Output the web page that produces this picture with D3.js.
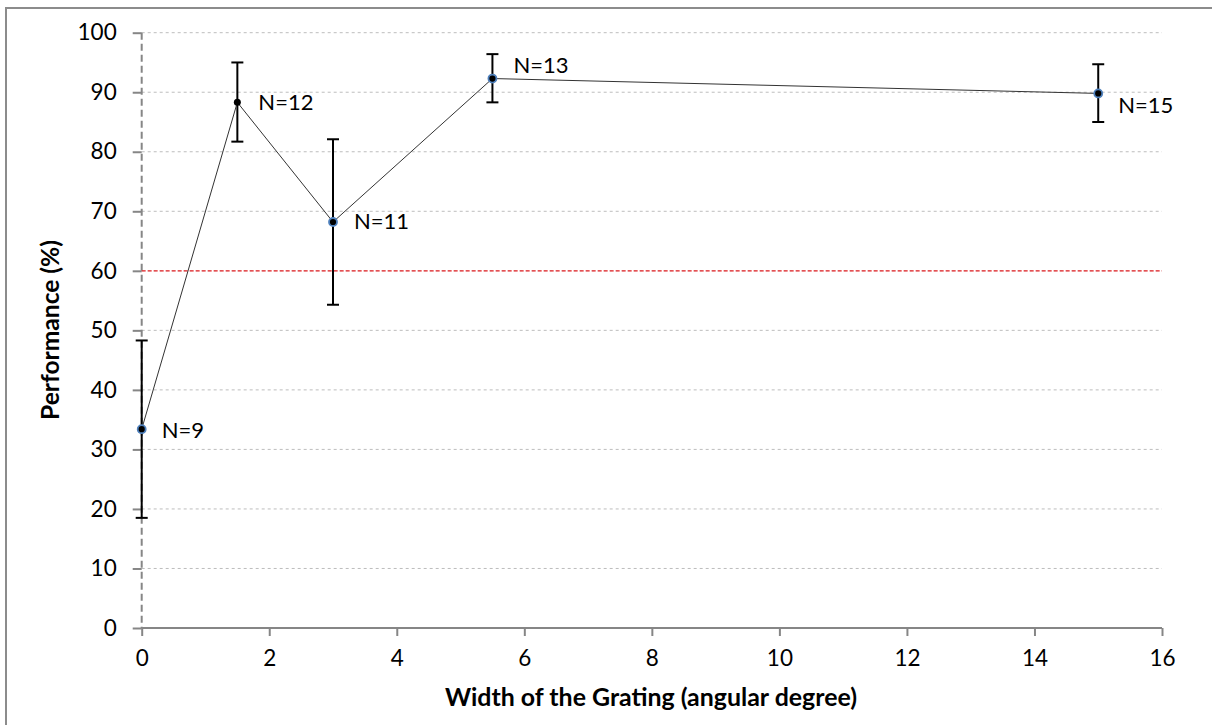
<!DOCTYPE html>
<html>
<head>
<meta charset="utf-8">
<script src="https://cdn.jsdelivr.net/npm/d3@7"></script>
<style>
  body { margin: 0; background: #fff; }
  svg { display: block; font-family: Lato, 'Open Sans', sans-serif; }
</style>
</head>
<body>
<div class="chart-wrapper"></div>
<script>
// grating width (deg) and performance (%)
const widths = [0, 1.5, 3, 5.5, 15];
const perf = [33.4, 88.3, 68.2, 92.3, 89.8];
const errHigh = [48.3, 95.0, 82.1, 96.4, 94.7];
const errLow = [18.5, 81.7, 54.3, 88.3, 85.0];
const nLabels = ['N=9', 'N=12', 'N=11', 'N=13', 'N=15'];
const xTicks = [0, 2, 4, 6, 8, 10, 12, 14, 16];
const yTicks = [0, 10, 20, 30, 40, 50, 60, 70, 80, 90, 100];
const chance = 60;

let width = 1212, height = 725;

let svg = d3.select('.chart-wrapper').append('svg')
  .attr('width', width)
  .attr('height', height);

// outer frame (right/bottom edges fall outside the picture)
svg.append('rect')
  .attr('x', 6).attr('y', 8)
  .attr('width', 1230).attr('height', 740)
  .attr('fill', 'none')
  .attr('stroke', '#8c8c8c')
  .attr('stroke-width', 2);

let xScale = d3.scaleLinear().domain([0, 16]).range([141.7, 1162]);
let yScale = d3.scaleLinear().domain([0, 100]).range([628, 32.7]);

let data = widths.map((w, i) => ({
  x: w, y: perf[i], hi: errHigh[i], lo: errLow[i], label: nLabels[i]
}));

// gridlines
svg.append('g')
  .selectAll('line')
  .data(yTicks.filter(t => t > 0))
  .enter().append('line')
  .attr('x1', xScale(0)).attr('x2', xScale(16))
  .attr('y1', d => yScale(d)).attr('y2', d => yScale(d))
  .attr('stroke', '#bdbdbd')
  .attr('stroke-width', 1)
  .attr('stroke-dasharray', '3,3');

// y axis
let yAxis = svg.append('g')
  .attr('transform', `translate(${xScale(0)},0)`)
  .call(d3.axisLeft(yScale).tickValues(yTicks).tickSize(9).tickPadding(16));
yAxis.select('.domain')
  .attr('d', `M0,${yScale(100)}V${yScale(0)}`)
  .attr('stroke', '#868686')
  .attr('stroke-width', 2)
  .attr('stroke-dasharray', '7,4');
yAxis.selectAll('.tick line').attr('stroke', '#868686').attr('stroke-width', 2);
yAxis.selectAll('.tick text')
  .attr('font-size', 22.5)
  .attr('fill', '#000')
  .attr('font-family', 'Lato, sans-serif');

// x axis
let xAxis = svg.append('g')
  .attr('transform', `translate(0,${yScale(0)})`)
  .call(d3.axisBottom(xScale).tickValues(xTicks).tickSize(8).tickPadding(14));
xAxis.select('.domain')
  .attr('d', `M${xScale(0)},0H${xScale(16)}`)
  .attr('stroke', '#868686')
  .attr('stroke-width', 2);
xAxis.selectAll('.tick line').attr('stroke', '#868686').attr('stroke-width', 2);
xAxis.selectAll('.tick text')
  .attr('font-size', 22.5)
  .attr('fill', '#000')
  .attr('font-family', 'Lato, sans-serif');

// chance level
svg.append('line')
  .attr('x1', xScale(0)).attr('x2', xScale(16))
  .attr('y1', yScale(chance)).attr('y2', yScale(chance))
  .attr('stroke', '#e8262a')
  .attr('stroke-width', 1.2)
  .attr('stroke-dasharray', '4,2');

// error bars
let bars = svg.append('g').selectAll('g')
  .data(data).enter().append('g');
bars.append('line')
  .attr('x1', d => xScale(d.x)).attr('x2', d => xScale(d.x))
  .attr('y1', d => yScale(d.hi)).attr('y2', d => yScale(d.lo));
bars.append('line')
  .attr('x1', d => xScale(d.x) - 6).attr('x2', d => xScale(d.x) + 6)
  .attr('y1', d => yScale(d.hi)).attr('y2', d => yScale(d.hi));
bars.append('line')
  .attr('x1', d => xScale(d.x) - 6).attr('x2', d => xScale(d.x) + 6)
  .attr('y1', d => yScale(d.lo)).attr('y2', d => yScale(d.lo));
bars.selectAll('line').attr('stroke', '#000').attr('stroke-width', 2);

// connecting line
let lineGen = d3.line().x(d => xScale(d.x)).y(d => yScale(d.y));
svg.append('path')
  .datum(data)
  .attr('d', lineGen)
  .attr('fill', 'none')
  .attr('stroke', '#333')
  .attr('stroke-width', 1);

// markers
svg.append('g').selectAll('circle')
  .data(data).enter().append('circle')
  .attr('cx', d => xScale(d.x))
  .attr('cy', d => yScale(d.y))
  .attr('r', d => d.x === 1.5 ? 3.5 : 4)
  .attr('fill', '#000')
  .attr('stroke', d => d.x === 1.5 ? 'none' : '#4f81bd')
  .attr('stroke-width', 1.8);

// N labels
const labelOffsets = [[20, 1], [21, 0], [21, -1], [21, -13], [20, 12]];
svg.append('g').selectAll('text')
  .data(data).enter().append('text')
  .attr('x', (d, i) => xScale(d.x) + labelOffsets[i][0])
  .attr('y', (d, i) => yScale(d.y) + labelOffsets[i][1])
  .attr('dy', '0.36em')
  .attr('font-size', 22)
  .text(d => d.label);

// axis titles
svg.append('text')
  .attr('x', 651).attr('y', 697)
  .attr('dy', '0.36em')
  .attr('text-anchor', 'middle')
  .attr('font-size', 24.5)
  .attr('font-weight', 'bold')
  .attr('textLength', 412)
  .attr('lengthAdjust', 'spacingAndGlyphs')
  .text('Width of the Grating (angular degree)');

svg.append('text')
  .attr('transform', 'translate(50,330) rotate(-90)')
  .attr('dy', '0.36em')
  .attr('text-anchor', 'middle')
  .attr('font-size', 24.5)
  .attr('font-weight', 'bold')
  .attr('textLength', 180)
  .attr('lengthAdjust', 'spacingAndGlyphs')
  .text('Performance (%)');
</script>
</body>
</html>
